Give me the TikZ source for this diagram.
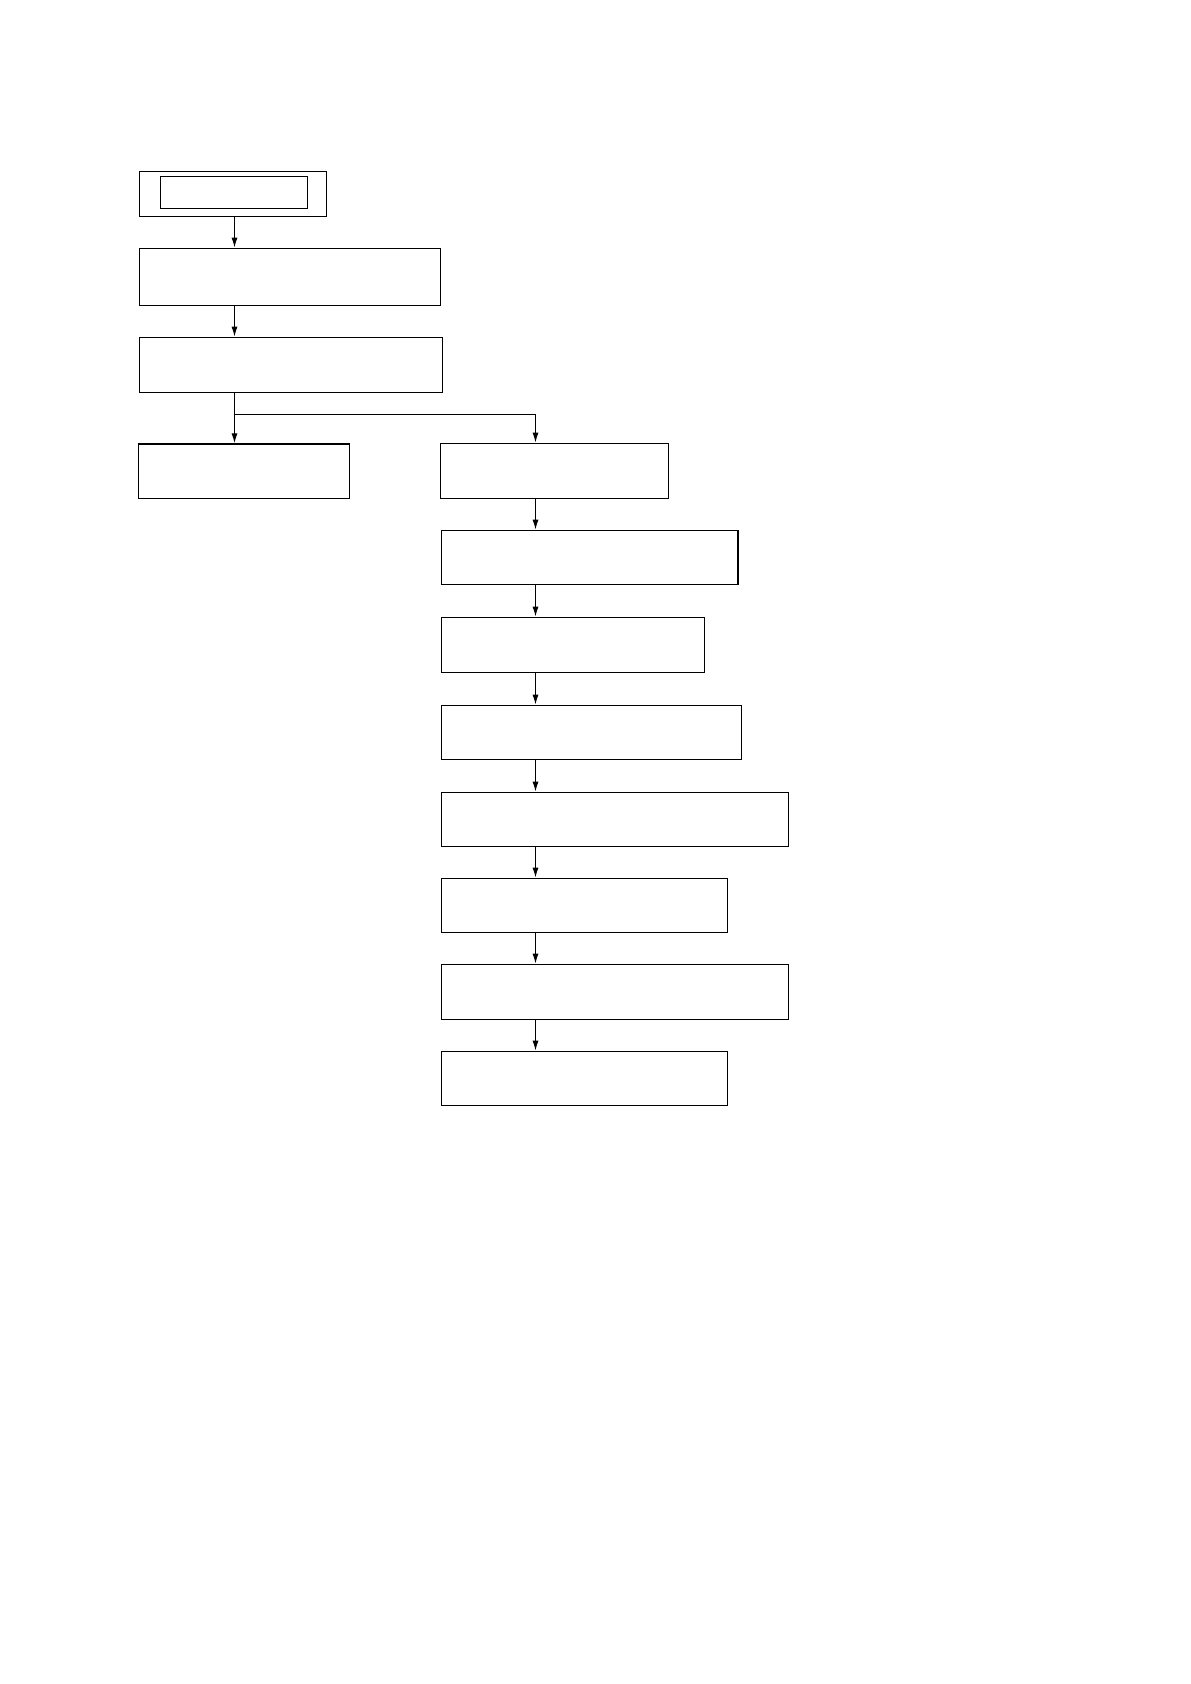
\documentclass[tikz,border=0pt]{standalone}
\usetikzlibrary{fit,arrows.meta}
\begin{document}
\begin{tikzpicture}[x=0.5pt,y=-0.5pt,
  box/.style={draw=black,line width=0.6pt,inner sep=0pt,rectangle},
  arr/.style={draw=black,line width=0.6pt,-{Latex[length=5pt,width=3pt]}},
  ln/.style={draw=black,line width=0.6pt}]
\useasboundingbox (0,0) rectangle (1190,1684);
\fill[white] (0,0) rectangle (1190,1684);
\coordinate (colL) at (234.5,0);
\coordinate (colR) at (535.5,0);
\node[box,fit={(139.3,171.3) (326.7,216.3)}] (top) {};
\node[box,fit={(160.3,176.3) (307.7,208.7)}] (topin) {};
\node[box,fit={(139.3,248.3) (440.7,305.3)}] (b2) {};
\node[box,fit={(139.3,337.3) (442.7,392.3)}] (b3) {};
\node[box,fit={(138.3,444.0) (349.3,498.3)}] (lft) {};
\node[box,fit={(440.2,443.3) (668.2,498.3)}] (r1) {};
\node[box,fit={(441.2,530.3) (738.0,584.3)}] (r2) {};
\node[box,fit={(441.3,617.3) (704.2,672.3)}] (r3) {};
\node[box,fit={(441.3,705.3) (741.7,759.3)}] (r4) {};
\node[box,fit={(441.3,792.3) (788.7,846.3)}] (r5) {};
\node[box,fit={(441.3,878.3) (727.7,932.3)}] (r6) {};
\node[box,fit={(441.3,964.3) (788.7,1019.3)}] (r7) {};
\node[box,fit={(441.3,1051.3) (727.7,1105.3)}] (r8) {};
\coordinate (junc) at (234.5,414.3);
\draw[arr] (top.south -| colL) -- (b2.north -| colL);
\draw[arr] (b2.south -| colL) -- (b3.north -| colL);
\draw[arr] (b3.south -| colL) -- (lft.north -| colL);
\draw[arr] (junc) -| (r1.north -| colR);
\draw[arr] (r1.south -| colR) -- (r2.north -| colR);
\draw[arr] (r2.south -| colR) -- (r3.north -| colR);
\draw[arr] (r3.south -| colR) -- (r4.north -| colR);
\draw[arr] (r4.south -| colR) -- (r5.north -| colR);
\draw[arr] (r5.south -| colR) -- (r6.north -| colR);
\draw[arr] (r6.south -| colR) -- (r7.north -| colR);
\draw[arr] (r7.south -| colR) -- (r8.north -| colR);
\end{tikzpicture}
\end{document}
